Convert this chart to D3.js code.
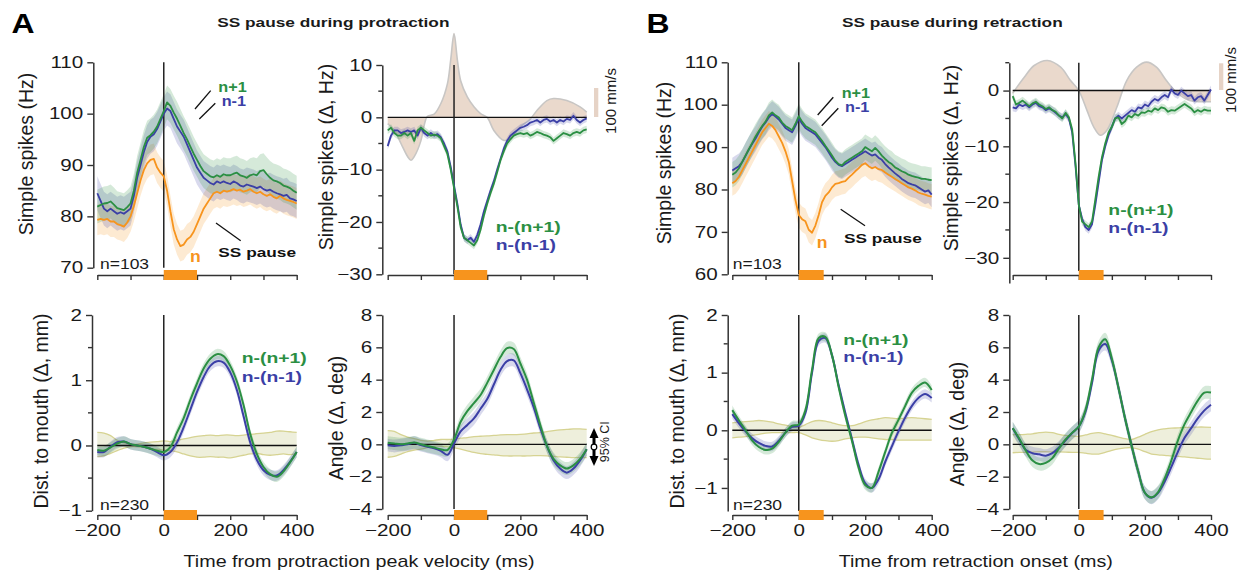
<!DOCTYPE html>
<html>
<head>
<meta charset="utf-8">
<script src="https://cdn.jsdelivr.net/npm/d3@7"></script>
<style>
  body { margin: 0; background: #fff; }
  svg { display: block; }
  text { font-family: "Liberation Sans", Arial, Helvetica, sans-serif; }
</style>
</head>
<body>
<script>
const W = 1244, H = 579;
const GREEN = "#2b8f43", BLUE = "#3b3fa6", ORANGE = "#f7941d";

// time grids (ms)
const tFine = d3.range(-200, 401, 10);
const tCoarse = d3.range(-200, 401, 20);

// ---- A: protraction, simple spikes (Hz) ----
const ssProtNext = [81.9,82.2,82.5,82.6,82.9,82.3,81.6,81.4,81.2,81.8,
  82.5,85,88.5,91,93.5,95.3,95.8,96.5,97.5,99,
  100.5,102.2,101.5,100.2,99,97.6,96.2,95,93.6,92.2,
  91,89.8,88.8,88.3,87.8,87.6,88,87.7,88.2,88,
  88,88.3,88.5,88,87.8,87.5,88,88.2,88,88.8,
  89,88.2,87.5,87,86.8,86.5,86,85.8,85.5,85,
  84.6];
const ssProtPrev = [84.5,83,81.5,81,81.5,81,80.5,80.8,80.5,81,
  81.5,84,87.5,90,92.5,94.5,95.5,96,97,98.5,
  100,101,100.5,99,97.5,96.5,95.5,94,92.5,91,
  89.5,88.5,87.5,87,86.5,86.2,86.8,86.5,86.8,86.5,
  86.3,86.8,86.5,86,85.8,86.2,86,85.8,85.5,85.8,
  85.3,85,85.2,84.8,84.5,84.3,84,84.2,83.5,83.3,
  83];
const ssProtPause = [79.3,79.5,79.3,79.5,79,79,78.5,78.3,78,78.8,
  80,82,84.5,87,89,90.3,91,91.2,89.5,88.5,
  87.8,85,81,77.5,75.5,74.2,74.5,75.5,76,77,
  78.5,80,81.5,82.5,83.5,84.5,84.8,84.5,85,84.8,
  85,85.3,85,85.2,84.8,85,85.3,84.8,84.5,84.8,
  84.3,84,84.3,83.8,83.5,84,83.5,83.2,83,82.8,
  82.5];

// ---- A: protraction, simple spikes difference (Δ Hz) ----
const dProtNext = [-2.5,-2,-3,-3.5,-3.5,-3,-3.5,-3,-4.5,-2.5,
  -2,-2.5,-3,-3.5,-3.3,-3.5,-4,-5.5,-7,-10,
  -13.5,-17,-21,-23,-23.5,-24,-24.5,-23.5,-21.5,-18.8,
  -16.5,-14.5,-12.7,-10.5,-8.2,-6.5,-5,-4.2,-3.5,-3.2,
  -3,-3.2,-3,-3.5,-3.2,-2.8,-3,-3.3,-3.5,-3.8,
  -4.5,-4,-3.5,-3,-3.2,-3.5,-3,-2.8,-3,-2.5,
  -2.3];
const dProtPrev = [-5.5,-3.5,-2.5,-2.5,-3,-2.8,-2.5,-2.8,-2.5,-3.5,
  -2,-3,-3.5,-3,-3.5,-3.2,-3.8,-5,-6.5,-9.5,
  -13,-16.5,-20.5,-23,-23.5,-23,-23.8,-22.5,-20.5,-18,
  -16,-14,-12.2,-10,-8,-6,-4.5,-3.5,-3,-2.5,
  -2,-1.8,-1.5,-1,-0.8,-0.5,-1,-0.5,-0.3,-0.8,
  -0.5,-1,-0.5,-0.8,-0.3,-0.5,0.3,-0.5,-1,-0.5,
  -0.2];
const velProtT = [-200,-180,-160,-140,-130,-120,-100,-90,-80,-60,-40,-20,-10,0,10,20,40,60,80,100,120,150,170,200,230,250,280,300,340,380,400];
const velProtV = [-1.2,-2.5,-5,-7.5,-8.2,-7.5,-4.5,-1.5,0.2,0.6,2.6,6.4,11,16,11,7,3.9,2,0.7,0,-2.5,-4.4,-4,-1.8,-0.3,1.3,3.2,3.6,3.2,2,1];

// ---- A: protraction kinematics ----
const distProtNext = [-0.07,-0.08,-0.03,0.03,0.06,0.02,0,-0.02,-0.05,-0.08,
  -0.1,-0.02,0.2,0.42,0.7,0.95,1.18,1.33,1.4,1.37,
  1.22,0.98,0.62,0.18,-0.13,-0.33,-0.44,-0.48,-0.4,-0.26,
  -0.1];
const distProtPrev = [-0.1,-0.1,-0.02,0.05,0.06,0.02,0,-0.02,-0.05,-0.1,
  -0.15,-0.1,0.05,0.28,0.55,0.82,1.05,1.22,1.29,1.27,
  1.12,0.85,0.45,0.05,-0.22,-0.38,-0.45,-0.46,-0.38,-0.25,
  -0.1];
const distProtCiHi = [0.2,0.19,0.15,0.08,0.04,0.02,0.02,0.04,0.05,0.06,
  0.07,0.06,0.08,0.1,0.12,0.14,0.15,0.16,0.15,0.16,
  0.16,0.15,0.16,0.17,0.18,0.19,0.2,0.22,0.22,0.21,
  0.2];
const distProtCiLo = [-0.17,-0.16,-0.12,-0.08,-0.04,-0.02,-0.02,-0.03,-0.05,-0.06,
  -0.07,-0.08,-0.1,-0.13,-0.16,-0.18,-0.18,-0.17,-0.18,-0.18,
  -0.19,-0.17,-0.15,-0.13,-0.12,-0.14,-0.15,-0.14,-0.13,-0.14,
  -0.13];
const angProtNext = [0.1,0.05,0,0.05,0.12,0,-0.1,-0.2,-0.3,-0.35,
  0.3,1.4,2.05,2.55,3.05,3.8,4.6,5.4,5.95,5.9,
  5.0,4.0,2.6,1.2,-0.1,-0.9,-1.3,-1.5,-1.3,-0.9,
  -0.3];
const angProtPrev = [-0.05,-0.1,-0.05,0,0.1,-0.05,-0.15,-0.25,-0.4,-0.65,
  0.05,0.8,1.2,1.6,2.2,2.8,3.7,4.6,5.15,5.2,
  4.4,3.4,2.3,1.0,-0.1,-1.0,-1.5,-1.75,-1.5,-1.0,
  -0.3];
const angProtCiHi = [0.85,0.8,0.6,0.45,0.35,0.25,0.2,0.25,0.3,0.3,
  0.32,0.38,0.42,0.48,0.5,0.52,0.55,0.58,0.6,0.6,
  0.62,0.65,0.7,0.72,0.78,0.85,0.9,0.92,0.95,0.95,
  0.92];
const angProtCiLo = [-0.8,-0.75,-0.6,-0.45,-0.35,-0.3,-0.2,-0.12,-0.12,-0.15,
  -0.2,-0.3,-0.4,-0.5,-0.58,-0.62,-0.65,-0.7,-0.72,-0.72,
  -0.72,-0.72,-0.7,-0.7,-0.72,-0.75,-0.78,-0.8,-0.82,-0.82,
  -0.82];

// ---- B: retraction, simple spikes (Hz) ----
const ssRetNext = [83.5,84,85,86.5,88,89.5,91,92.5,93.8,95,
  96,97.5,98.2,97.5,97,95.8,95,94.5,94,95.5,
  97.3,96,95,94.5,94,93.5,92.5,91.5,90.3,89.2,
  88,86.8,86,85.7,86.5,87,87.5,88,88.5,89,
  90,89.5,89,89.8,89,88,87.2,86.5,86,85.2,
  84.8,84.3,84,83.5,83.2,83,82.8,82.5,82.5,82.3,
  82.2];
const ssRetPrev = [84.5,85,85.5,86.5,88,89.5,90.8,92,93.5,94.8,
  95.8,97,97.8,97.2,96.5,95.5,94.5,94,93.5,95,
  96.8,95.5,94.5,94,93.5,93,92,91,90,88.8,
  87.5,86.5,85.8,85.5,86,86.5,87,87.5,88,88.5,
  89,88.5,88,88.3,87.5,87,86,85.2,84.5,83.8,
  83.2,82.5,82,81.5,81.2,81,80.5,80,79.5,79.8,
  78.8];
const ssRetPause = [81.5,82,83,84.5,86,87.5,89,90.5,92,93.5,
  94.5,95.5,95,94,92.5,91,89,86.5,82,77.5,
  74,73,72.5,70.5,69.8,71.5,74,77,78.5,79.3,
  80.5,81.3,81.5,81.8,82,82.8,83.5,84.3,85,85.8,
  86.2,85.5,85,85.3,84.8,84.6,84,83.5,83,82.5,
  82,81.5,81,80.5,80.2,79.8,79.3,79,78.8,78.5,
  78.3];

// ---- B: retraction, simple spikes difference (Δ Hz) ----
const dRetNext = [-1,-2.5,-2.2,-1.8,-2.3,-2.8,-2.3,-2,-2.5,-2.8,
  -3.3,-3,-3.5,-3.8,-4.5,-5,-4,-4.8,-7,-13,
  -20.5,-23.5,-24,-24.5,-23.5,-19.5,-15.5,-12,-9.5,-7.5,
  -6.5,-5,-4.8,-6,-5.5,-4.5,-4.8,-4.2,-4.5,-3.9,
  -4,-3.6,-3.8,-3.2,-3.5,-3,-3.2,-3.8,-3.5,-3.6,
  -3.2,-2.8,-2.4,-2.8,-3.2,-3.9,-3.5,-3.8,-3.4,-3.6,
  -3.6];
const dRetPrev = [-3,-3.2,-2.5,-2.8,-2.5,-3,-2.5,-2.2,-2.8,-3,
  -3.5,-3.2,-3.5,-4,-4.5,-4.8,-4.2,-5,-7.5,-13.5,
  -20.5,-23,-24.5,-25,-24,-20.5,-16.5,-12.5,-10,-8,
  -6.5,-5,-4.5,-5,-4.5,-4,-3.5,-3.8,-3,-3.2,
  -2.5,-2.8,-2,-1.5,-1.8,-1.2,-0.8,-1.2,0.2,-0.5,
  -0.8,0,-0.5,-1,-0.8,-1.8,-1.2,-1,-1.8,-0.8,
  0.2];
const velRetT = [-200,-185,-165,-135,-95,-55,-25,0,25,45,65,85,115,145,175,205,235,265,295,335,370,400];
const velRetV = [-0.5,0.8,2.4,4.5,5.4,4.2,1.8,0,-3.6,-6.5,-8,-7.1,-3,1.8,4.2,5.1,4.2,1.8,-0.3,-1.8,-2,-2];

// ---- B: retraction kinematics ----
const distRetNext = [0.35,0.17,0,-0.18,-0.29,-0.34,-0.32,-0.2,-0.04,0.08,
  0.1,0.35,1.05,1.6,1.62,1.3,0.75,0.25,-0.18,-0.65,
  -0.95,-1.0,-0.72,-0.38,-0.05,0.18,0.42,0.65,0.77,0.83,
  0.7];
const distRetPrev = [0.28,0.12,-0.02,-0.14,-0.22,-0.27,-0.28,-0.18,-0.04,0.06,
  0.08,0.3,1.0,1.55,1.6,1.3,0.78,0.3,-0.15,-0.6,
  -0.92,-1.0,-0.85,-0.55,-0.28,-0.02,0.22,0.42,0.56,0.63,
  0.56];
const distRetCiHi = [0.13,0.14,0.15,0.16,0.17,0.16,0.14,0.11,0.09,0.06,
  0.05,0.1,0.15,0.17,0.16,0.13,0.1,0.08,0.08,0.11,
  0.15,0.18,0.2,0.22,0.21,0.2,0.21,0.22,0.21,0.2,
  0.19];
const distRetCiLo = [-0.13,-0.12,-0.11,-0.09,-0.07,-0.05,-0.04,-0.04,-0.04,-0.04,
  -0.04,-0.08,-0.13,-0.16,-0.18,-0.19,-0.18,-0.15,-0.13,-0.12,
  -0.12,-0.13,-0.15,-0.16,-0.16,-0.17,-0.17,-0.17,-0.17,-0.17,
  -0.17];
const angRetNext = [1.0,0.35,-0.4,-1.0,-1.22,-1.15,-0.85,-0.25,0.3,0.72,
  1.1,2.1,4.0,6.0,6.5,5.3,3.5,1.6,-0.1,-1.7,
  -3.0,-3.28,-2.95,-2.1,-1.0,0.25,1.25,2.0,2.7,3.2,
  3.2];
const angRetPrev = [1.0,0.3,-0.35,-0.55,-0.62,-0.7,-0.55,-0.2,0.25,0.7,
  1.1,2.0,3.8,5.8,6.2,5.2,3.5,1.6,-0.1,-1.7,
  -3.0,-3.3,-3.0,-2.3,-1.4,-0.45,0.4,1.0,1.6,2.1,
  2.45];
const angRetCiHi = [0.6,0.6,0.62,0.65,0.72,0.76,0.72,0.62,0.55,0.52,
  0.5,0.58,0.68,0.72,0.65,0.55,0.45,0.35,0.3,0.45,
  0.62,0.78,0.9,0.96,1.0,1.02,1.05,1.05,1.07,1.07,
  1.05];
const angRetCiLo = [-0.52,-0.5,-0.5,-0.48,-0.46,-0.46,-0.47,-0.47,-0.48,-0.5,
  -0.5,-0.55,-0.6,-0.6,-0.5,-0.38,-0.28,-0.22,-0.2,-0.3,
  -0.45,-0.6,-0.65,-0.68,-0.72,-0.75,-0.78,-0.82,-0.86,-0.9,
  -0.92];

const xTicks = [-200, -100, 0, 100, 200, 300, 400];
const xTickLabels = [-200, 0, 200, 400];

// ---------- drawing ----------
const svg = d3.select("body").append("svg").attr("width", W).attr("height", H);
const fmt = d3.format("~g");

function txt(g, s, x, y, o) {
  o = o || {};
  return g.append("text")
    .attr("transform", `translate(${x},${y})` + (o.rot ? " rotate(-90)" : "") + ` scale(${o.sx || 1},1)`)
    .attr("text-anchor", o.anchor || "start")
    .attr("dy", o.dy || null)
    .attr("font-size", o.fs || 16)
    .attr("font-weight", o.bold ? "bold" : "normal")
    .attr("fill", o.fill || "#1a1a1a")
    .text(s);
}

const panels = [
  { x0: 97.3, x1: 296.7, ax: 93.3, yd: [70, 110], yr: [267.7, 62.3], xa: 275, bar: 100,
    yTicks: [70, 80, 90, 100, 110], yMinor: [], labels: false, zeroH: false, fine: true,
    series: [{ v: ssProtPause, c: ORANGE, hw: 3 }, { v: ssProtPrev, c: BLUE, hw: 3.3 }, { v: ssProtNext, c: GREEN, hw: 3.3 }] },
  { x0: 387.7, x1: 586.7, ax: 382.3, yd: [-30, 10], yr: [274.3, 65], xa: 275, bar: 100,
    yTicks: [-30, -20, -10, 0, 10], yMinor: [-25, -15, -5, 5], labels: false, zeroH: true, fine: true,
    vel: { t: velProtT, v: velProtV },
    series: [{ v: dProtPrev, c: BLUE, hw: 0.7 }, { v: dProtNext, c: GREEN, hw: 0.7 }] },
  { x0: 97.3, x1: 296.7, ax: 92, yd: [-1, 2], yr: [510.7, 315], xa: 515, bar: 100,
    yTicks: [-1, 0, 1, 2], yMinor: [-0.5, 0.5, 1.5], labels: true, zeroH: true,
    ci: { hi: distProtCiHi, lo: distProtCiLo },
    series: [{ v: distProtPrev, c: BLUE, hw: 0.08 }, { v: distProtNext, c: GREEN, hw: 0.08 }] },
  { x0: 387.7, x1: 586.7, ax: 382.3, yd: [-4, 8], yr: [509, 315], xa: 515, bar: 100,
    yTicks: [-4, -2, 0, 2, 4, 6, 8], yMinor: [], labels: true, zeroH: true,
    ci: { hi: angProtCiHi, lo: angProtCiLo },
    series: [{ v: angProtPrev, c: BLUE, hw: 0.4 }, { v: angProtNext, c: GREEN, hw: 0.4 }] },
  { x0: 732.3, x1: 931.7, ax: 727.7, yd: [60, 110], yr: [274.3, 62.3], xa: 275, bar: 75,
    yTicks: [60, 70, 80, 90, 100, 110], yMinor: [], labels: false, zeroH: false, fine: true,
    series: [{ v: ssRetPause, c: ORANGE, hw: 3 }, { v: ssRetPrev, c: BLUE, hw: 3 }, { v: ssRetNext, c: GREEN, hw: 3 }] },
  { x0: 1012.7, x1: 1211, ax: 1009.3, yd: [-34.5, 5], yr: [282.9, 62.7], xa: 275, bar: 75, vBottom: 271,
    yTicks: [-30, -20, -10, 0], yMinor: [-25, -15, -5, 5], labels: false, zeroH: true, fine: true,
    vel: { t: velRetT, v: velRetV },
    series: [{ v: dRetPrev, c: BLUE, hw: 0.7 }, { v: dRetNext, c: GREEN, hw: 0.7 }] },
  { x0: 732.3, x1: 931.7, ax: 727.7, yd: [-1.4, 2], yr: [511, 315], xa: 515, bar: 75,
    yTicks: [-1, 0, 1, 2], yMinor: [-0.5, 0.5, 1.5], labels: true, zeroH: true,
    ci: { hi: distRetCiHi, lo: distRetCiLo },
    series: [{ v: distRetPrev, c: BLUE, hw: 0.08 }, { v: distRetNext, c: GREEN, hw: 0.08 }] },
  { x0: 1012.7, x1: 1211, ax: 1009.3, yd: [-4, 8], yr: [509, 315], xa: 515, bar: 75,
    yTicks: [-4, -2, 0, 2, 4, 6, 8], yMinor: [], labels: true, zeroH: true,
    ci: { hi: angRetCiHi, lo: angRetCiLo },
    series: [{ v: angRetPrev, c: BLUE, hw: 0.4 }, { v: angRetNext, c: GREEN, hw: 0.4 }] }
];

panels.forEach(p => {
  const g = svg.append("g");
  const x = d3.scaleLinear().domain([-200, 400]).range([p.x0, p.x1]);
  const y = d3.scaleLinear().domain(p.yd).range(p.yr);
  const t = p.fine ? tFine : tCoarse;
  const curve = p.fine ? d3.curveLinear : d3.curveCatmullRom.alpha(0.5);

  if (p.ci) {
    g.append("path").datum(t)
      .attr("fill", "#ecedd8").attr("fill-opacity", 0.9)
      .attr("d", d3.area().curve(curve).x(d => x(d))
        .y0((d, i) => y(p.ci.lo[i])).y1((d, i) => y(p.ci.hi[i])));
    [p.ci.hi, p.ci.lo].forEach(arr => {
      g.append("path").datum(t)
        .attr("fill", "none").attr("stroke", "#d6d392").attr("stroke-width", 1.3)
        .attr("d", d3.line().curve(curve).x(d => x(d)).y((d, i) => y(arr[i])));
    });
  }

  if (p.vel) {
    const vc = d3.curveCatmullRom.alpha(0.5);
    g.append("path").datum(p.vel.t)
      .attr("fill", "#ead9cc")
      .attr("d", d3.area().curve(vc).x(d => x(d)).y0(y(0)).y1((d, i) => y(p.vel.v[i])));
    g.append("path").datum(p.vel.t)
      .attr("fill", "none").attr("stroke", "#c8c6c4").attr("stroke-width", 1.6)
      .attr("d", d3.line().curve(vc).x(d => x(d)).y((d, i) => y(p.vel.v[i])));
  }

  p.series.forEach(s => {
    g.append("path").datum(t)
      .attr("fill", s.c).attr("fill-opacity", 0.2)
      .attr("d", d3.area().curve(curve).x(d => x(d))
        .y0((d, i) => y(s.v[i] - s.hw)).y1((d, i) => y(s.v[i] + s.hw)));
  });

  if (p.zeroH) {
    g.append("line").attr("x1", p.x0).attr("x2", p.x1)
      .attr("y1", y(0)).attr("y2", y(0))
      .attr("stroke", "#111").attr("stroke-width", 1.4);
  }
  g.append("line").attr("x1", x(0)).attr("x2", x(0))
    .attr("y1", p.yr[1]).attr("y2", p.vBottom || p.yr[0])
    .attr("stroke", "#222").attr("stroke-width", 1.5);

  p.series.forEach(s => {
    g.append("path").datum(t)
      .attr("fill", "none").attr("stroke", s.c)
      .attr("stroke-width", p.fine ? 1.8 : 2).attr("stroke-linejoin", "round")
      .attr("d", d3.line().curve(curve).x(d => x(d)).y((d, i) => y(s.v[i])));
  });

  // y axis
  const ya = g.append("g").attr("transform", `translate(${p.ax},0)`)
    .call(d3.axisLeft(y).tickValues(p.yTicks).tickSize(6).tickSizeOuter(0).tickFormat(fmt));
  ya.append("g").selectAll("line").data(p.yMinor).enter().append("line")
    .attr("x1", -4).attr("x2", 0).attr("y1", d => y(d)).attr("y2", d => y(d))
    .attr("stroke", "#333").attr("stroke-width", 1.4);
  ya.select(".domain").attr("stroke", "#333").attr("stroke-width", 1.5);
  ya.selectAll(".tick line").attr("stroke", "#333").attr("stroke-width", 1.4);
  ya.selectAll(".tick text")
    .attr("x", 0).attr("transform", "translate(-10,0) scale(1.25,1)")
    .attr("font-size", 16.5).attr("font-family", null).attr("fill", "#1a1a1a");

  // x axis
  const xa = g.append("g").attr("transform", `translate(0,${p.xa})`)
    .call(d3.axisBottom(x).tickValues(xTicks).tickSize(5).tickSizeOuter(0)
      .tickFormat(d => p.labels && xTickLabels.includes(d) ? fmt(d) : ""));
  xa.select(".domain").attr("stroke", "#333").attr("stroke-width", 1.5);
  xa.selectAll(".tick line").attr("stroke", "#333").attr("stroke-width", 1.4);
  xa.selectAll(".tick text")
    .attr("y", 0).attr("transform", "translate(0,9) scale(1.25,1)")
    .attr("font-size", 16.5).attr("font-family", null).attr("fill", "#1a1a1a");

  // stimulus bar
  g.append("rect").attr("x", x(0)).attr("width", x(p.bar) - x(0))
    .attr("y", p.xa - 5).attr("height", 10).attr("fill", ORANGE);
});

// ---------- text, labels, annotations ----------
const T = svg.append("g");
txt(T, "A", 11.5, 33.3, { fs: 28.5, sx: 1.12, bold: true, fill: "#000" });
txt(T, "B", 646.5, 33.3, { fs: 28.5, sx: 1.12, bold: true, fill: "#000" });
txt(T, "SS pause during protraction", 333.3, 26.5, { fs: 13.5, sx: 1.28, bold: true, anchor: "middle" });
txt(T, "SS pause during retraction", 952.3, 26.5, { fs: 13.5, sx: 1.28, bold: true, anchor: "middle" });

// y titles
[["Simple spikes (Hz)", 27.5, 154], ["Simple spikes (\u0394, Hz)", 327.5, 157],
 ["Dist. to mouth (\u0394, mm)", 41.7, 411], ["Angle (\u0394, deg)", 337.5, 418],
 ["Simple spikes (Hz)", 665, 163], ["Simple spikes (\u0394, Hz)", 951.7, 158],
 ["Dist. to mouth (\u0394, mm)", 678.3, 411], ["Angle (\u0394, deg)", 958.3, 424]]
  .forEach(d => txt(T, d[0], d[1], d[2], { fs: 19.5, rot: true, anchor: "middle", dy: "0.3em" }));

// x titles
txt(T, "Time from protraction peak velocity (ms)", 359, 567, { fs: 17, sx: 1.16, anchor: "middle" });
txt(T, "Time from retraction onset (ms)", 975.8, 567, { fs: 17, sx: 1.16, anchor: "middle" });

// legends top-left panels
txt(T, "n+1", 218.3, 91.7, { fs: 14, sx: 1.16, bold: true, fill: GREEN });
txt(T, "n-1", 221.7, 106, { fs: 14, sx: 1.16, bold: true, fill: BLUE });
txt(T, "n+1", 841.7, 98.3, { fs: 14, sx: 1.16, bold: true, fill: GREEN });
txt(T, "n-1", 845, 111.7, { fs: 14, sx: 1.16, bold: true, fill: BLUE });
txt(T, "SS pause", 218.3, 256.5, { fs: 13.5, sx: 1.28, bold: true, fill: "#111" });
txt(T, "SS pause", 844, 242.7, { fs: 13.5, sx: 1.28, bold: true, fill: "#111" });
txt(T, "n", 190, 262, { fs: 16, sx: 1.1, bold: true, fill: ORANGE });
txt(T, "n", 816.7, 248.3, { fs: 16, sx: 1.1, bold: true, fill: ORANGE });
txt(T, "n=103", 100, 269, { fs: 14, sx: 1.25 });
txt(T, "n=103", 732.7, 269.3, { fs: 14, sx: 1.25 });
txt(T, "n=230", 100, 510, { fs: 14, sx: 1.25 });
txt(T, "n=230", 733, 510, { fs: 14, sx: 1.25 });

// difference legends
[[495.7, 232.3, 250], [1108.3, 215, 233.3], [241.7, 363.3, 381.7], [843.3, 345, 361.7]]
  .forEach(d => {
    txt(T, "n-(n+1)", d[0], d[1], { fs: 15.5, sx: 1.25, bold: true, fill: GREEN });
    txt(T, "n-(n-1)", d[0], d[2], { fs: 15.5, sx: 1.25, bold: true, fill: BLUE });
  });

// pointer lines
[[195, 109, 210.7, 90.7], [199.3, 119, 215.3, 103.3], [216, 223, 240.7, 240.7],
 [817.7, 115, 833.3, 97.3], [821.7, 125.7, 838.3, 108.3], [840.7, 209.3, 865, 225.7]]
  .forEach(d => T.append("line").attr("x1", d[0]).attr("y1", d[1]).attr("x2", d[2]).attr("y2", d[3])
    .attr("stroke", "#111").attr("stroke-width", 1.3));

// velocity scale bars
T.append("rect").attr("x", 594).attr("y", 88).attr("width", 4.3).attr("height", 29).attr("fill", "#e6d3c6");
txt(T, "100 mm/s", 611.7, 101, { fs: 15, rot: true, anchor: "middle", dy: "0.3em" });
T.append("rect").attr("x", 1219).attr("y", 63.3).attr("width", 4.3).attr("height", 26.7).attr("fill", "#e6d3c6");
txt(T, "100 mm/s", 1231.7, 80, { fs: 15, rot: true, anchor: "middle", dy: "0.3em" });

// 95% CI marker
T.append("line").attr("x1", 594).attr("x2", 594).attr("y1", 434).attr("y2", 460)
  .attr("stroke", "#000").attr("stroke-width", 3);
T.append("path").attr("d", "M594,428 L589.5,438 L598.5,438 Z").attr("fill", "#000");
T.append("path").attr("d", "M594,466 L589.5,456 L598.5,456 Z").attr("fill", "#000");
T.append("circle").attr("cx", 594).attr("cy", 447).attr("r", 2.8)
  .attr("fill", "#fff").attr("stroke", "#000").attr("stroke-width", 1.2);
txt(T, "95% CI", 605.5, 441.7, { fs: 12.5, rot: true, anchor: "middle", dy: "0.3em" });
</script>
</body>
</html>
